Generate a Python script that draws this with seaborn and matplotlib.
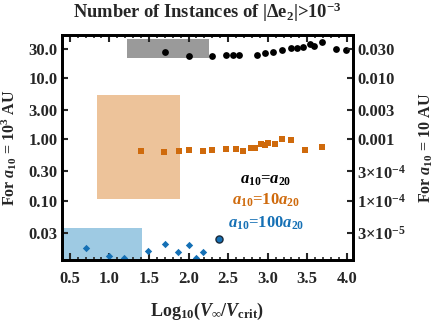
import matplotlib
matplotlib.use("Agg")
import numpy as np
import seaborn as sns
import matplotlib.pyplot as plt
from matplotlib.ticker import MultipleLocator, FixedLocator, NullLocator

# a10 = a20 (black dots), counts for a10 = 10^3 AU
x_equal = [1.70, 2.00, 2.30, 2.47, 2.56, 2.64, 2.87, 2.97, 3.07, 3.18,
           3.29, 3.37, 3.45, 3.53, 3.59, 3.69, 3.86, 3.99]
y_equal = [27.1, 23.5, 23.3, 23.9, 23.9, 24.2, 24.2, 25.8, 27.1, 28.5,
           31.1, 31.5, 32.3, 36.6, 33.1, 39.9, 30.0, 29.2]

# a10 = 10 a20 (orange squares)
x_ten = [1.40, 1.69, 1.88, 2.00, 2.18, 2.30, 2.47, 2.60, 2.69, 2.79,
         2.84, 2.92, 2.96, 3.00, 3.09, 3.18, 3.29, 3.47, 3.69]
y_ten = [0.650, 0.633, 0.656, 0.674, 0.656, 0.674, 0.692, 0.692, 0.656, 0.728,
         0.720, 0.846, 0.805, 0.887, 0.846, 1.02, 0.984, 0.674, 0.764]

# a10 = 100 a20 (blue diamonds)
x_hundred = [0.70, 1.00, 1.18, 1.485, 1.70, 1.87, 2.00, 2.095, 2.18]
y_hundred = [0.0166, 0.0124, 0.0114, 0.0150, 0.0193, 0.0143, 0.0188, 0.0116, 0.0146]
x_mixed = [2.39]
y_mixed = [0.0236]

# shaded regions: (x0, x1, y0, y1)
box_equal = (1.22, 2.26, 21.4, 44.3)
box_ten = (0.84, 1.893, 0.105, 5.36)
box_hundred = (0.40, 1.417, 0.0098, 0.036)

left_ticks = [30, 10, 3, 1, 0.3, 0.1, 0.03]
left_labels = ["30.0", "10.0", "3.00", "1.00", "0.30", "0.10", "0.03"]
right_labels = ["0.030", "0.010", "0.003", "0.001",
                r"$3{\times}10^{-4}$", r"$1{\times}10^{-4}$", r"$3{\times}10^{-5}$"]

col_black = "#000000"
col_orange = "#CF6A0C"
col_blue = "#1570B5"

sns.set_theme(style="ticks")
plt.rcParams["font.family"] = ["Liberation Serif", "DejaVu Serif"]
plt.rcParams["font.weight"] = "bold"
plt.rcParams["mathtext.fontset"] = "custom"
plt.rcParams["mathtext.rm"] = "Liberation Serif:bold"
plt.rcParams["mathtext.it"] = "Liberation Serif:bold:italic"
plt.rcParams["mathtext.bf"] = "Liberation Serif:bold"

fig = plt.figure(figsize=(4.36, 3.27), dpi=100)
ax = fig.add_axes([0.142, 0.205, 0.668, 0.688])
ax.set_yscale("log")
ylo, yhi = 0.0107, 51.0
ax.set_xlim(0.40, 4.08)
ax.set_ylim(ylo, yhi)

# shaded regions
for (x0, x1, y0, y1), c in [(box_equal, "#9a9a9a"), (box_ten, "#EDC39A"),
                            (box_hundred, "#9ECAE3")]:
    ax.fill_between([x0, x1], y0, y1, color=c, lw=0, zorder=0, clip_on=False)

sns.scatterplot(x=x_equal, y=y_equal, ax=ax, marker="o", color=col_black,
                s=24, linewidth=0, zorder=3)
sns.scatterplot(x=x_ten, y=y_ten, ax=ax, marker="s", color=col_orange,
                s=16, linewidth=0, zorder=3)
sns.scatterplot(x=x_hundred, y=y_hundred, ax=ax, marker="D", color=col_blue,
                s=14, linewidth=0, zorder=3)
sns.scatterplot(x=x_mixed, y=y_mixed, ax=ax, marker="o", color=col_blue,
                s=26, edgecolor="#1a2a3a", linewidth=1.0, zorder=3)

# x axis
ax.xaxis.set_minor_locator(MultipleLocator(0.1))
ax.set_xticks(np.arange(0.5, 4.01, 0.5))
ax.set_xticklabels(["%.1f" % v for v in np.arange(0.5, 4.01, 0.5)])
ax.tick_params(axis="x", which="both", direction="in", top=True, bottom=True,
               labelsize=12, pad=8)
ax.tick_params(axis="x", which="major", length=5, width=1.5)
ax.tick_params(axis="x", which="minor", length=2.5, width=1.2)

# left y axis
ax.yaxis.set_major_locator(FixedLocator(left_ticks))
ax.yaxis.set_minor_locator(NullLocator())
ax.set_yticklabels(left_labels)
ax.tick_params(axis="y", which="major", direction="in", length=4, width=1.5,
               labelsize=12, right=False, pad=3)

# right y axis
ax2 = ax.twinx()
ax2.set_yscale("log")
ax2.set_ylim(ylo * 1e-3, yhi * 1e-3)
ax2.yaxis.set_major_locator(FixedLocator([v * 1e-3 for v in left_ticks]))
ax2.yaxis.set_minor_locator(NullLocator())
ax2.set_yticklabels(right_labels)
ax2.tick_params(axis="y", which="major", direction="in", length=4, width=1.5,
                labelsize=12, pad=3)

for a in (ax, ax2):
    for sp in a.spines.values():
        sp.set_linewidth(2.0)
        sp.set_color("black")

ax.set_xlabel(r"Log$_{10}$($V_{\infty}$/$V_{\rm crit}$)", fontsize=13,
              fontweight="bold", labelpad=10)
ax.set_ylabel(r"For $a_{10}$ = $10^{3}$ AU", fontsize=11.5, fontweight="bold")
ax2.set_ylabel(r"For $a_{10}$ = 10 AU", fontsize=11.5, fontweight="bold")
ax.yaxis.set_label_coords(-0.148, 0.5)
ax2.yaxis.set_label_coords(1.222, 0.5)

fig.text(0.475, 0.962, r"Number of Instances of |$\Delta$e$_{2}$|>10$^{-3}$",
         ha="center", va="center", fontsize=13.3, fontweight="bold")

# legend texts
ax.text(2.98, 0.215, r"$a_{10}$=$a_{20}$", color=col_black, ha="center",
        va="center", fontsize=12)
ax.text(2.98, 0.100, r"$a_{10}$=10$a_{20}$", color=col_orange, ha="center",
        va="center", fontsize=12)
ax.text(2.98, 0.043, r"$a_{10}$=100$a_{20}$", color=col_blue, ha="center",
        va="center", fontsize=12)

fig.savefig("out.png", dpi=100)
